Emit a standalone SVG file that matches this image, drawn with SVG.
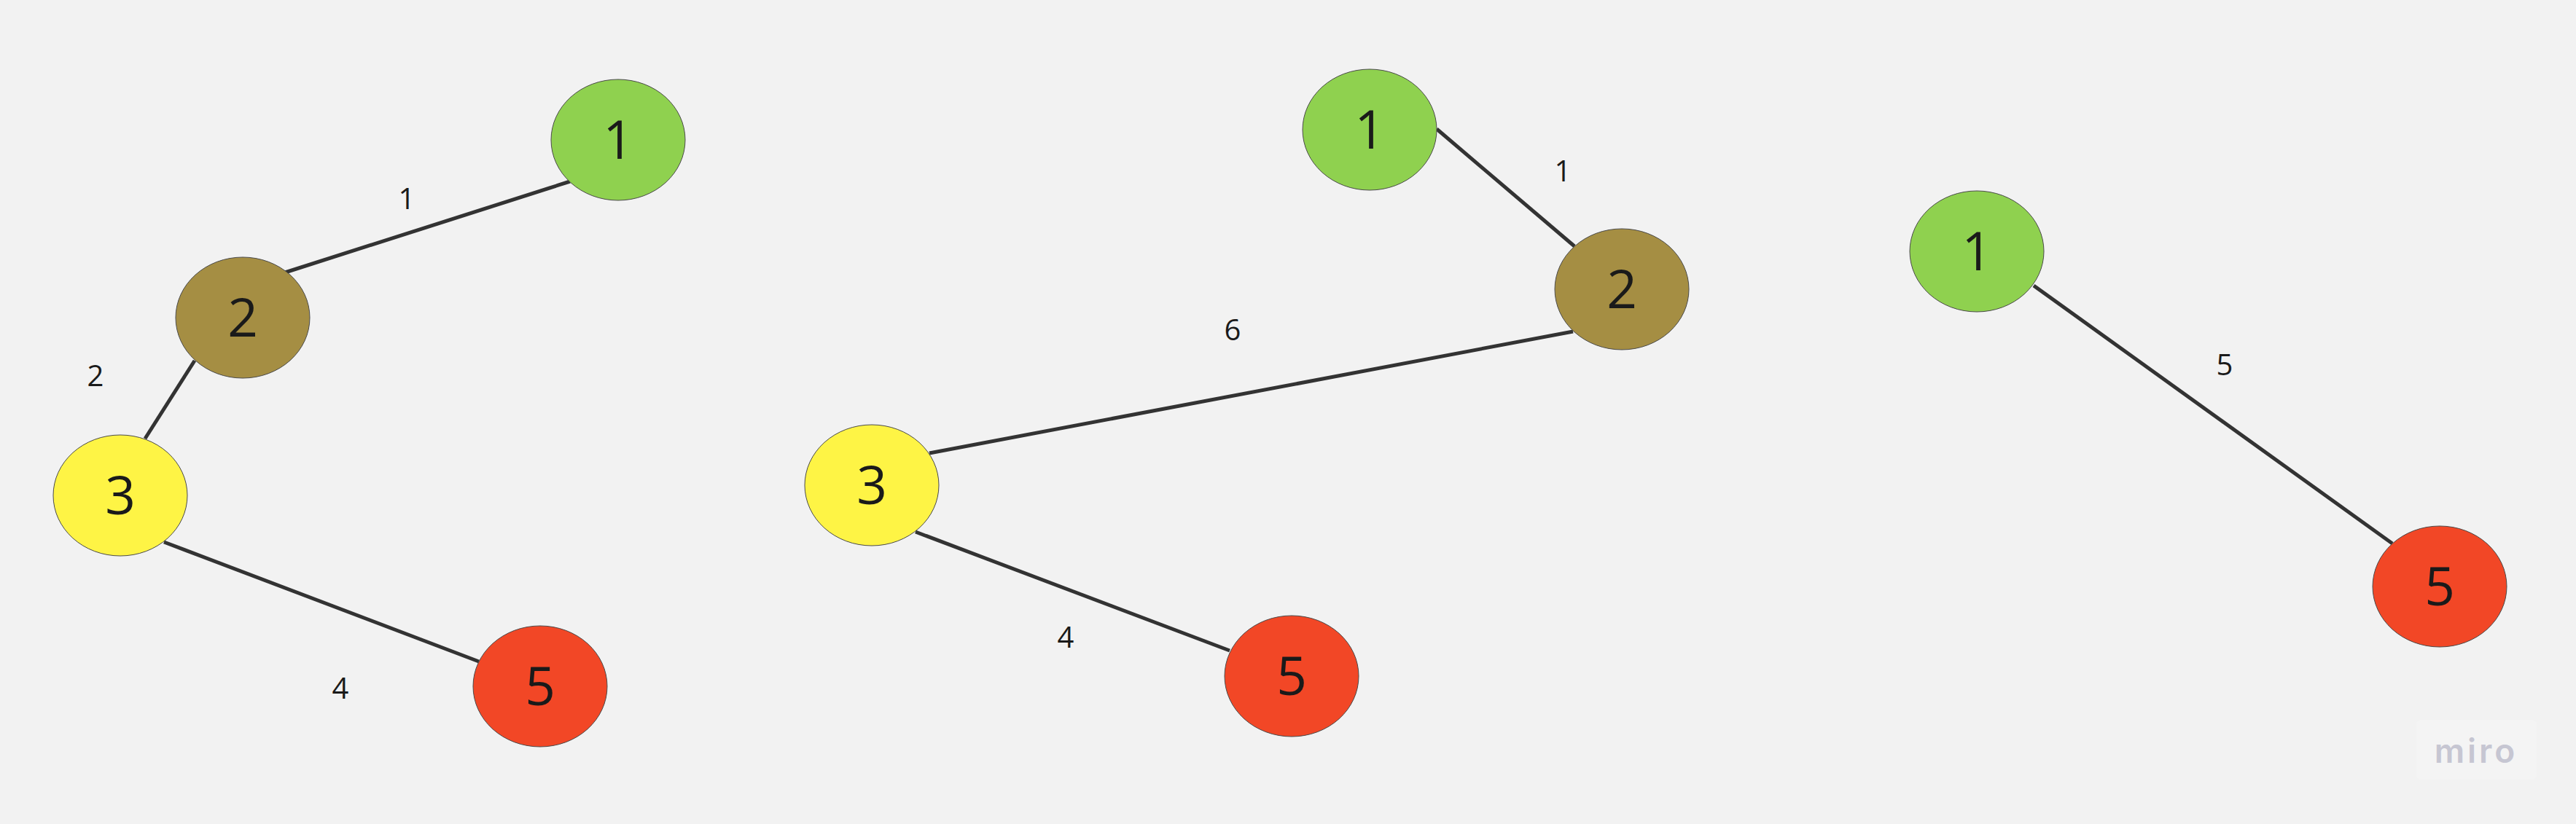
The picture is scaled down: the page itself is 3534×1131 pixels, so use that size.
<svg xmlns="http://www.w3.org/2000/svg" width="3534" height="1131" viewBox="0 0 3534 1131">
<style>
.n{stroke:#4a4a4a;stroke-width:1}
.g{fill:#8fd14f}.o{fill:#a58e43}.y{fill:#fef445}.r{fill:#f24726}
.t{font-family:"Open Sans","Noto Sans",sans-serif;font-size:73px;fill:#1a1a1a;text-anchor:middle}
.l{font-family:"Open Sans","Noto Sans",sans-serif;font-size:40px;fill:#1a1a1a;text-anchor:middle}
.e{stroke:#333333;stroke-width:5;fill:none}
</style>
<rect width="3534" height="1131" fill="#f2f2f2"/>
<g id="connectors">
<line class="e" x1="782" y1="249" x2="391" y2="374"/>
<line class="e" x1="267" y1="495" x2="199" y2="602"/>
<line class="e" x1="225" y1="744" x2="657" y2="908"/>
<line class="e" x1="1971" y1="177" x2="2160" y2="338"/>
<line class="e" x1="2158" y1="455" x2="1275" y2="622"/>
<line class="e" x1="1256" y1="730" x2="1687" y2="893"/>
<line class="e" x1="2790" y1="392" x2="3282" y2="746"/>
</g>
<g id="edge-labels">
<text class="l" x="558" y="287">1</text>
<text class="l" x="131" y="530">2</text>
<text class="l" x="467" y="959">4</text>
<text class="l" x="2144" y="249">1</text>
<text class="l" x="1691" y="467">6</text>
<text class="l" x="1462" y="889">4</text>
<text class="l" x="3052" y="515">5</text>
</g>
<g id="a1"><ellipse class="n g" cx="848" cy="192" rx="92" ry="83"/><text class="t" x="848" y="218">1</text></g>
<g id="a2"><ellipse class="n o" cx="333" cy="436" rx="92" ry="83"/><text class="t" x="333" y="462">2</text></g>
<g id="a3"><ellipse class="n y" cx="165" cy="680" rx="92" ry="83"/><text class="t" x="165" y="706">3</text></g>
<g id="a5"><ellipse class="n r" cx="741" cy="942" rx="92" ry="83"/><text class="t" x="741" y="968">5</text></g>
<g id="b1"><ellipse class="n g" cx="1879" cy="178" rx="92" ry="83"/><text class="t" x="1879" y="204">1</text></g>
<g id="b2"><ellipse class="n o" cx="2225" cy="397" rx="92" ry="83"/><text class="t" x="2225" y="423">2</text></g>
<g id="b3"><ellipse class="n y" cx="1196" cy="666" rx="92" ry="83"/><text class="t" x="1196" y="692">3</text></g>
<g id="b5"><ellipse class="n r" cx="1772" cy="928" rx="92" ry="83"/><text class="t" x="1772" y="954">5</text></g>
<g id="c1"><ellipse class="n g" cx="2712" cy="345" rx="92" ry="83"/><text class="t" x="2712" y="371">1</text></g>
<g id="c5"><ellipse class="n r" cx="3347" cy="805" rx="92" ry="83"/><text class="t" x="3347" y="831">5</text></g>
<g id="logo">
<rect x="3315" y="988" width="165" height="82" rx="6" fill="#f4f4f4"/>
<text x="3397" y="1047" font-family="Inter,'Open Sans',sans-serif" font-size="46" font-weight="600" fill="#c6c6d2" text-anchor="middle" letter-spacing="4">miro</text>
</g>
</svg>
